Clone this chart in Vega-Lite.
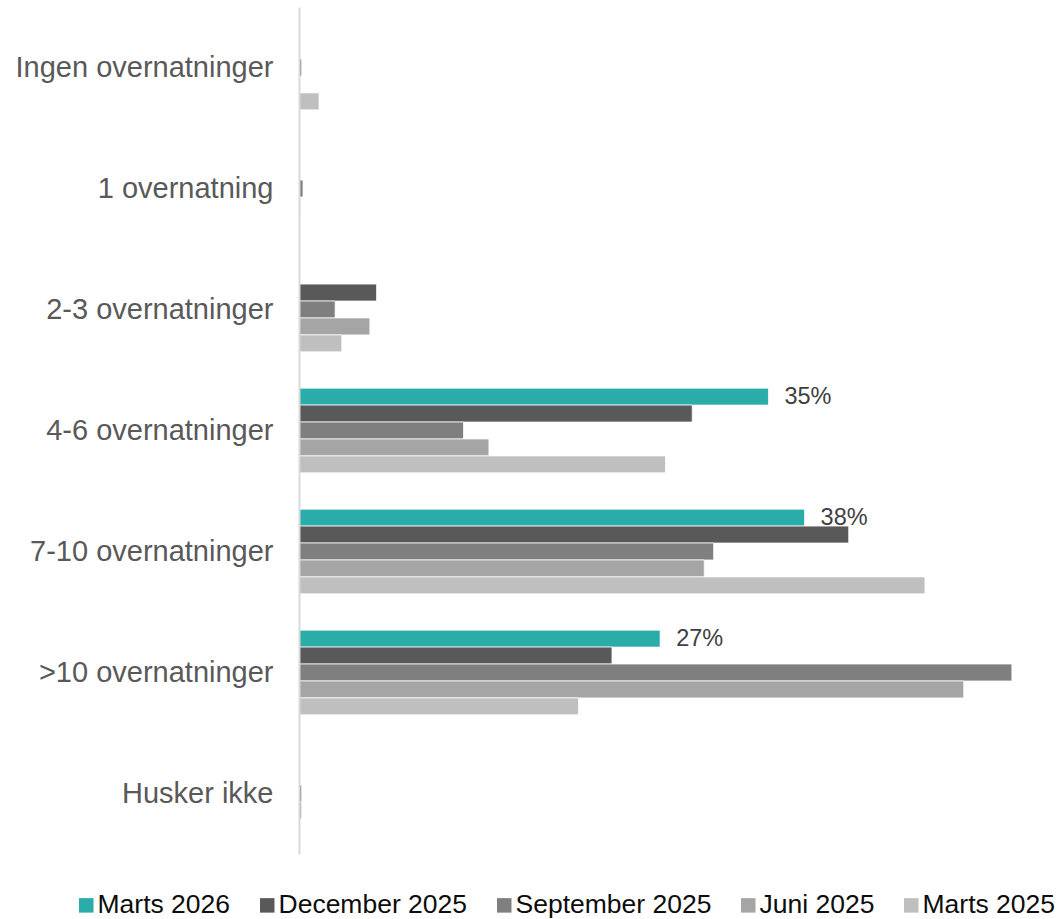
{
  "$schema": "https://vega.github.io/schema/vega-lite/v6.json",
  "autosize": "none",
  "padding": {"left": 299, "top": 7, "right": 10, "bottom": 65},
  "width": 749,
  "height": 847,
  "background": "white",
  "config": {
    "font": "Liberation Sans",
    "view": {"stroke": null}
  },
  "data": {
    "values": [
      {"cat": "Ingen overnatninger", "series": "Marts 2026", "value": 0},
      {"cat": "Ingen overnatninger", "series": "December 2025", "value": 0},
      {"cat": "Ingen overnatninger", "series": "September 2025", "value": 0.002},
      {"cat": "Ingen overnatninger", "series": "Juni 2025", "value": 0},
      {"cat": "Ingen overnatninger", "series": "Marts 2025", "value": 0.015},
      {"cat": "1 overnatning", "series": "Marts 2026", "value": 0},
      {"cat": "1 overnatning", "series": "December 2025", "value": 0},
      {"cat": "1 overnatning", "series": "September 2025", "value": 0.003},
      {"cat": "1 overnatning", "series": "Juni 2025", "value": 0.001},
      {"cat": "1 overnatning", "series": "Marts 2025", "value": 0},
      {"cat": "2-3 overnatninger", "series": "Marts 2026", "value": 0},
      {"cat": "2-3 overnatninger", "series": "December 2025", "value": 0.058},
      {"cat": "2-3 overnatninger", "series": "September 2025", "value": 0.027},
      {"cat": "2-3 overnatninger", "series": "Juni 2025", "value": 0.053},
      {"cat": "2-3 overnatninger", "series": "Marts 2025", "value": 0.032},
      {"cat": "4-6 overnatninger", "series": "Marts 2026", "value": 0.351},
      {"cat": "4-6 overnatninger", "series": "December 2025", "value": 0.294},
      {"cat": "4-6 overnatninger", "series": "September 2025", "value": 0.123},
      {"cat": "4-6 overnatninger", "series": "Juni 2025", "value": 0.142},
      {"cat": "4-6 overnatninger", "series": "Marts 2025", "value": 0.274},
      {"cat": "7-10 overnatninger", "series": "Marts 2026", "value": 0.378},
      {"cat": "7-10 overnatninger", "series": "December 2025", "value": 0.411},
      {"cat": "7-10 overnatninger", "series": "September 2025", "value": 0.31},
      {"cat": "7-10 overnatninger", "series": "Juni 2025", "value": 0.303},
      {"cat": "7-10 overnatninger", "series": "Marts 2025", "value": 0.468},
      {"cat": ">10 overnatninger", "series": "Marts 2026", "value": 0.27},
      {"cat": ">10 overnatninger", "series": "December 2025", "value": 0.234},
      {"cat": ">10 overnatninger", "series": "September 2025", "value": 0.533},
      {"cat": ">10 overnatninger", "series": "Juni 2025", "value": 0.497},
      {"cat": ">10 overnatninger", "series": "Marts 2025", "value": 0.209},
      {"cat": "Husker ikke", "series": "Marts 2026", "value": 0},
      {"cat": "Husker ikke", "series": "December 2025", "value": 0},
      {"cat": "Husker ikke", "series": "September 2025", "value": 0.002},
      {"cat": "Husker ikke", "series": "Juni 2025", "value": 0.002},
      {"cat": "Husker ikke", "series": "Marts 2025", "value": 0}
    ]
  },
  "encoding": {
    "y": {
      "field": "cat",
      "type": "nominal",
      "sort": ["Ingen overnatninger", "1 overnatning", "2-3 overnatninger", "4-6 overnatninger", "7-10 overnatninger", ">10 overnatninger", "Husker ikke"],
      "scale": {"paddingInner": 0.3, "paddingOuter": 0.15},
      "axis": {
        "title": null,
        "ticks": false,
        "domainColor": "#d9d9d9",
        "domainWidth": 2,
        "labelFontSize": 29,
        "labelColor": "#595959",
        "labelPadding": 26,
        "labelLimit": 500,
        "zindex": 1
      }
    },
    "yOffset": {
      "field": "series",
      "type": "nominal",
      "sort": ["Marts 2026", "December 2025", "September 2025", "Juni 2025", "Marts 2025"],
      "scale": {"paddingInner": 0, "paddingOuter": 0}
    },
    "x": {
      "field": "value",
      "type": "quantitative",
      "scale": {"domain": [0, 0.56], "nice": false},
      "axis": null
    }
  },
  "layer": [
    {
      "mark": {"type": "bar", "stroke": "white", "strokeWidth": 0.75},
      "encoding": {
        "color": {
          "field": "series",
          "type": "nominal",
          "sort": ["Marts 2026", "December 2025", "September 2025", "Juni 2025", "Marts 2025"],
          "scale": {
            "domain": ["Marts 2026", "December 2025", "September 2025", "Juni 2025", "Marts 2025"],
            "range": ["#2AACA8", "#595959", "#7F7F7F", "#A5A5A5", "#BFBFBF"]
          },
          "legend": {
            "title": null,
            "orient": "none",
            "direction": "horizontal",
            "legendX": -226,
            "legendY": 885,
            "symbolType": "square",
            "symbolSize": 210,
            "symbolStrokeWidth": 0,
            "symbolOpacity": 1,
            "labelFontSize": 26.5,
            "labelColor": "#0d0d0d",
            "labelOffset": -2,
            "columnPadding": 23,
            "labelLimit": 400
          }
        }
      }
    },
    {
      "transform": [{"filter": "datum.series === 'Marts 2026' && datum.value > 0.05"}],
      "mark": {"type": "text", "align": "left", "baseline": "middle", "dx": 16, "fontSize": 23.5, "color": "#404040"},
      "encoding": {
        "text": {"field": "value", "type": "quantitative", "format": ".0%"}
      }
    }
  ]
}
